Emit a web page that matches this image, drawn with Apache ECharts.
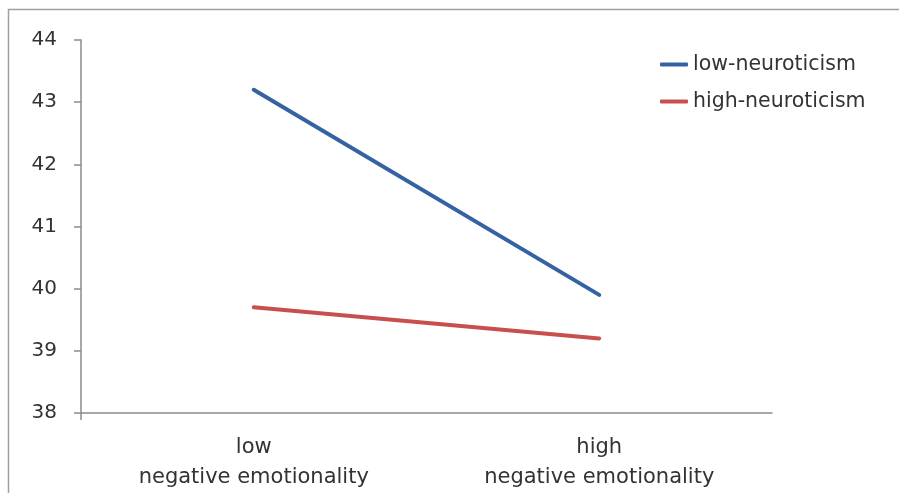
<!DOCTYPE html>
<html>
<head>
<meta charset="utf-8">
<script src="https://cdn.jsdelivr.net/npm/echarts@6/dist/echarts.min.js"></script>
<style>
html,body{margin:0;padding:0;background:#fff;}
#chart{width:899px;height:493px;}
</style>
</head>
<body>
<div id="chart"></div>
<script>
var categories = ['low\nnegative emotionality', 'high\nnegative emotionality'];
var seriesNames = ['low-neuroticism', 'high-neuroticism'];
var lowNeuroticism = [43.2, 39.9];
var highNeuroticism = [39.7, 39.2];
var yTicks = [38, 39, 40, 41, 42, 43, 44];

var FONT = '"DejaVu Sans", sans-serif';
var AXIS_COLOR = '#8c8c8c';
var chart = echarts.init(document.getElementById('chart'));
chart.setOption({
  animation: false,
  backgroundColor: '#fff',
  grid: {left: 81, right: 127, top: 40, bottom: 80},
  legend: {
    orient: 'vertical', left: 655, top: 49, itemGap: 16,
    itemWidth: 28, itemHeight: 4, icon: 'roundRect',
    textStyle: {fontFamily: FONT, fontSize: 20.5, color: '#333', padding: [0,0,0,0]},
    data: seriesNames
  },
  xAxis: {
    type: 'category', data: categories, boundaryGap: true,
    axisLine: {lineStyle: {color: AXIS_COLOR, width: 1.5}},
    axisTick: {show: false},
    axisLabel: {fontFamily: FONT, fontSize: 21, color: '#333', lineHeight: 30, margin: 20}
  },
  yAxis: {
    type: 'value', min: yTicks[0], max: yTicks[yTicks.length-1], interval: 1,
    splitLine: {show: false},
    axisLine: {show: true, lineStyle: {color: AXIS_COLOR, width: 1.5}},
    axisTick: {show: true, length: 7, lineStyle: {color: AXIS_COLOR, width: 1.5}},
    axisLabel: {fontFamily: FONT, fontSize: 20, color: '#333', margin: 24}
  },
  series: [
    {name: seriesNames[0], type: 'line', data: lowNeuroticism, symbol: 'none',
     color: '#3562a2', lineStyle: {width: 4, cap: 'round'}},
    {name: seriesNames[1], type: 'line', data: highNeuroticism, symbol: 'none',
     color: '#c94f4f', lineStyle: {width: 4, cap: 'round'}}
  ]
});
// decorative frame and the short y-axis extension below the x-axis
var rect = chart.getModel().getComponent('grid').coordinateSystem.getRect();
chart.setOption({
  graphic: [
    {type: 'rect', silent: true,
     shape: {x: 8.5, y: 9.5, width: 1000, height: 1000},
     style: {fill: 'none', stroke: '#a0a0a0', lineWidth: 1.5}},
    {type: 'line', silent: true,
     shape: {x1: rect.x, y1: rect.y + rect.height, x2: rect.x, y2: rect.y + rect.height + 7},
     style: {stroke: AXIS_COLOR, lineWidth: 1.5}}
  ]
});
</script>
</body>
</html>
